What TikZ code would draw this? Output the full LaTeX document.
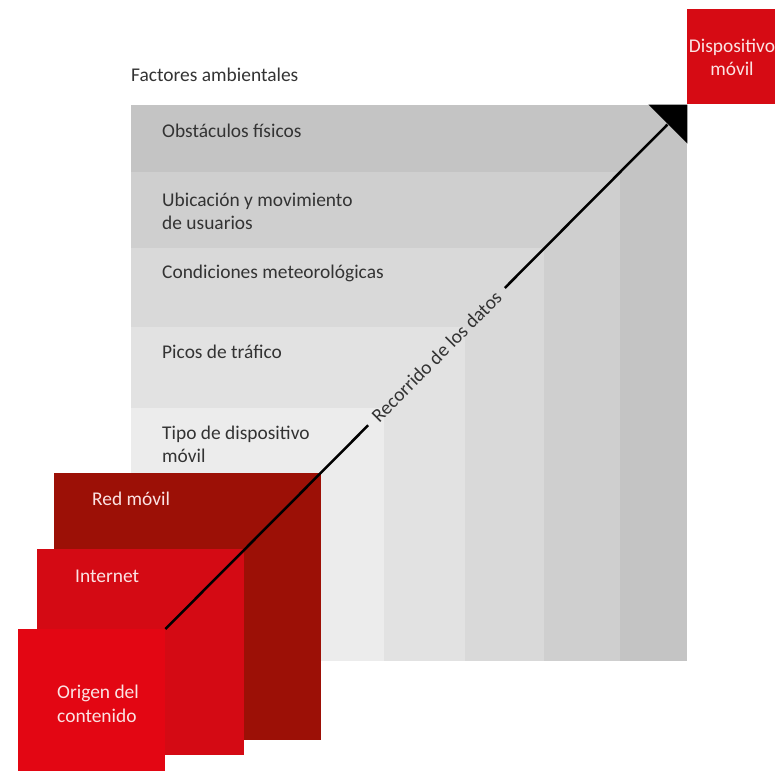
\documentclass[tikz,border=0pt]{standalone}
\usepackage{fontspec}
\setmainfont{Carlito}
\usetikzlibrary{positioning}

\definecolor{grisA}{HTML}{C4C4C4}
\definecolor{grisB}{HTML}{CFCFCF}
\definecolor{grisC}{HTML}{D9D9D9}
\definecolor{grisD}{HTML}{E2E2E2}
\definecolor{grisE}{HTML}{ECECEC}
\definecolor{rojoOscuro}{HTML}{9C1006}
\definecolor{rojoMedio}{HTML}{D40A14}
\definecolor{rojoVivo}{HTML}{E30613}
\definecolor{rojoMovil}{HTML}{D60B14}
\definecolor{textoGris}{HTML}{333333}
\definecolor{textoClaro}{HTML}{FBE3E3}

\begin{document}
\begin{tikzpicture}[x=1bp,y=-1bp,
  band/.style={rectangle,inner sep=0,anchor=south west,minimum width=#1,minimum height=#1},
  redbox/.style={rectangle,inner sep=0,anchor=north west},
  label/.style={anchor=base west,inner sep=0,align=left,text=textoGris,
    font=\fontsize{19.5}{23.5}\selectfont},
  whitelabel/.style={label,text=textoClaro}]
  \useasboundingbox (0,0) rectangle (775,771);

  \node[band=556bp,fill=grisA] (obstaculos) at (131,661) {};
  \node[band=489bp,fill=grisB] (ubicacion) at (131,661) {};
  \node[band=413bp,fill=grisC] (clima) at (131,661) {};
  \node[band=334bp,fill=grisD] (picos) at (131,661) {};
  \node[band=253bp,fill=grisE] (tipo) at (131,661) {};

  \node[label] (factores) at ([shift={(0,-23)}]obstaculos.north west) {Factores ambientales};
  \node[label] (l1) at ([shift={(31,33)}]obstaculos.north west) {Obstáculos físicos};
  \node[label] (l2) at ([shift={(31,58)}]ubicacion.north west) {Ubicación y movimiento\\de usuarios};
  \node[label] (l3) at ([shift={(31,31)}]clima.north west) {Condiciones meteorológicas};
  \node[label] (l4) at ([shift={(31,32)}]picos.north west) {Picos de tráfico};
  \node[label] (l5) at ([shift={(31,55)}]tipo.north west) {Tipo de dispositivo\\móvil};

  \node[redbox,fill=rojoOscuro,minimum width=267bp,minimum height=267bp] (redmovil) at (54,473) {};
  \node[redbox,fill=rojoMedio,minimum width=207bp,minimum height=206bp] (internet) at (37,549) {};
  \node[redbox,fill=rojoVivo,minimum width=147bp,minimum height=142bp] (origen) at (18,629) {};
  \node[redbox,fill=rojoMovil,minimum width=88bp,minimum height=95bp] (movil) at (687,9) {};

  \node[whitelabel] at ([shift={(38,32)}]redmovil.north west) {Red móvil};
  \node[whitelabel] at ([shift={(38,33)}]internet.north west) {Internet};
  \node[whitelabel] at ([shift={(39,93)}]origen.north west) {Origen del\\contenido};
  \node[whitelabel,anchor=base,align=center] at ([shift={(45,67)}]movil.north west) {Dispositivo\\móvil};

  \fill (obstaculos.north east) -- ++(-39,0) -- ++(39,39) -- cycle;
  \coordinate (fin) at ([shift={(-20,20)}]obstaculos.north east);

  \path (origen.north east) -- node[sloped,pos=0.54,inner xsep=9bp,text=textoGris,
    font=\fontsize{19.5}{23.5}\selectfont] (ruta) {Recorrido de los datos} (fin);
  \draw[line width=2.5bp] (origen.north east) -- (ruta.west) (ruta.east) -- (fin);

\end{tikzpicture}
\end{document}
